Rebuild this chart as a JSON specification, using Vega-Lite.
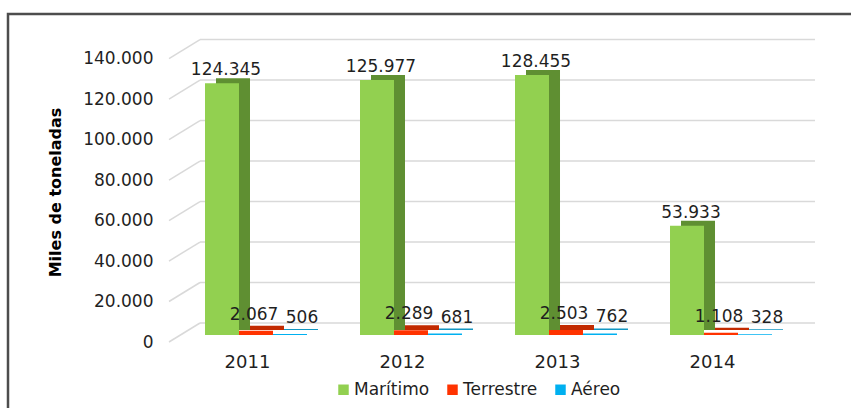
{
  "$schema": "https://vega.github.io/schema/vega-lite/v6.json",
  "width": 843,
  "height": 394,
  "autosize": "none",
  "padding": {"left": 8, "top": 14, "right": 0, "bottom": 0},
  "background": "white",
  "config": {
    "locale": {"number": {"decimal": ",", "thousands": ".", "grouping": [3], "currency": ["", " €"]}},
    "view": {"stroke": "#4d4d4d", "strokeWidth": 2.5, "strokeDash": [843, 1237, 394]},
    "font": "DejaVu Sans",
    "text": {"font": "DejaVu Sans", "color": "#1f1f1f"}
  },
  "datasets": {
    "bars": [
      {"year": "2011", "mode": "Marítimo", "value": 124345},
      {"year": "2011", "mode": "Terrestre", "value": 2067},
      {"year": "2011", "mode": "Aéreo", "value": 506},
      {"year": "2012", "mode": "Marítimo", "value": 125977},
      {"year": "2012", "mode": "Terrestre", "value": 2289},
      {"year": "2012", "mode": "Aéreo", "value": 681},
      {"year": "2013", "mode": "Marítimo", "value": 128455},
      {"year": "2013", "mode": "Terrestre", "value": 2503},
      {"year": "2013", "mode": "Aéreo", "value": 762},
      {"year": "2014", "mode": "Marítimo", "value": 53933},
      {"year": "2014", "mode": "Terrestre", "value": 1108},
      {"year": "2014", "mode": "Aéreo", "value": 328}
    ],
    "ticks": [
      {"value": 0}, {"value": 20000}, {"value": 40000}, {"value": 60000},
      {"value": 80000}, {"value": 100000}, {"value": 120000}, {"value": 140000}
    ]
  },
  "data": {"name": "bars"},
  "resolve": {"scale": {"color": "independent", "xOffset": "independent"}},
  "encoding": {
    "x": {"field": "year", "type": "ordinal", "axis": null,
          "scale": {"range": [166, 795], "paddingInner": 0.342, "paddingOuter": 0.2}},
    "y": {"field": "value", "type": "quantitative",
          "scale": {"domain": [0, 140000], "range": [321, 37.6], "nice": false, "zero": true},
          "axis": {"title": "Miles de toneladas", "values": [0, 20000, 40000, 60000, 80000, 100000, 120000, 140000],
                   "format": ",d", "grid": false, "domain": false, "ticks": false, "tickSize": 0,
                   "labelPadding": 0, "offset": -145, "labelFontSize": 17, "labelColor": "#1f1f1f",
                   "labelFont": "DejaVu Sans", "labelOffset": 7,
                   "titleFontSize": 16, "titleFontWeight": "bold", "titleColor": "#000000", "titleFont": "DejaVu Sans",
                   "titleX": -98, "titleY": 178, "titleAngle": -90, "titleAlign": "center", "titleBaseline": "middle"}}
  },
  "layer": [
    {
      "data": {"name": "ticks"},
      "mark": {"type": "rule", "color": "#d9d9d9", "strokeWidth": 1.5, "xOffset": -56, "x2Offset": 559, "yOffset": -12},
      "encoding": {"x": {"datum": "2011"}, "x2": {"datum": "2011"}}
    },
    {
      "data": {"name": "ticks"},
      "mark": {"type": "rule", "color": "#d9d9d9", "strokeWidth": 1.5, "xOffset": -87, "x2Offset": -56, "yOffset": 7, "y2Offset": -12},
      "encoding": {"x": {"datum": "2011"}, "x2": {"datum": "2011"}, "y2": {"field": "value"}}
    },
    {
      "mark": {"type": "bar", "yOffset": -5, "y2Offset": -5},
      "encoding": {
        "xOffset": {"field": "mode", "scale": {"domain": ["Marítimo", "Terrestre", "Aéreo"], "range": [11, 113]}},
        "color": {"field": "mode", "legend": null,
                  "scale": {"domain": ["Marítimo", "Terrestre", "Aéreo"], "range": ["#5f8f32", "#c22a00", "#1296c2"]}}
      }
    },
    {
      "mark": {"type": "bar"},
      "encoding": {
        "xOffset": {"field": "mode", "scale": {"domain": ["Marítimo", "Terrestre", "Aéreo"]}},
        "color": {"field": "mode", "sort": ["Marítimo", "Terrestre", "Aéreo"],
                  "scale": {"domain": ["Marítimo", "Terrestre", "Aéreo"], "range": ["#92d050", "#ff3300", "#00b0f0"]},
                  "legend": {"title": null, "orient": "none", "legendX": 327, "legendY": 367, "direction": "horizontal",
                             "symbolType": "square", "symbolSize": 110, "labelFontSize": 17, "labelFont": "DejaVu Sans",
                             "labelColor": "#1f1f1f", "columnPadding": 14, "labelOffset": 2, "padding": 0}}
      }
    },
    {
      "transform": [{"filter": "datum.mode === 'Marítimo'"}],
      "mark": {"type": "text", "fontSize": 17, "dy": -8, "dx": 4, "baseline": "alphabetic"},
      "encoding": {
        "xOffset": {"field": "mode", "scale": {"domain": ["Marítimo", "Terrestre", "Aéreo"]}},
        "text": {"field": "value", "type": "quantitative", "format": ",d"}
      }
    },
    {
      "transform": [{"filter": "datum.mode === 'Terrestre'"}],
      "mark": {"type": "text", "fontSize": 17, "dy": -11, "dx": -2, "baseline": "alphabetic"},
      "encoding": {
        "xOffset": {"field": "mode", "scale": {"domain": ["Marítimo", "Terrestre", "Aéreo"]}},
        "text": {"field": "value", "type": "quantitative", "format": ",d"}
      }
    },
    {
      "transform": [{"filter": "datum.mode === 'Aéreo'"}],
      "mark": {"type": "text", "fontSize": 17, "dy": -11, "dx": 12, "baseline": "alphabetic"},
      "encoding": {
        "xOffset": {"field": "mode", "scale": {"domain": ["Marítimo", "Terrestre", "Aéreo"]}},
        "text": {"field": "value", "type": "quantitative", "format": ",d"}
      }
    },
    {
      "transform": [{"filter": "datum.mode === 'Marítimo'"}],
      "mark": {"type": "text", "fontSize": 18, "dy": 28, "dx": -8.5, "baseline": "middle"},
      "encoding": {
        "y": {"datum": 0},
        "text": {"field": "year"}
      }
    }
  ]
}
